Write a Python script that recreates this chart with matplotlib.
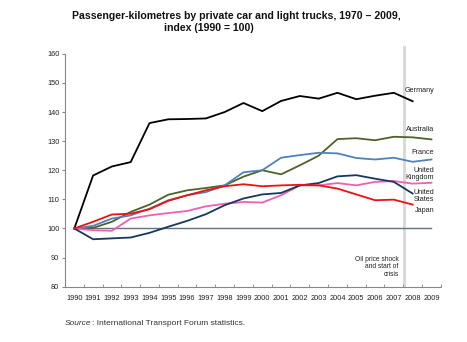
import matplotlib
matplotlib.use("Agg")
import matplotlib.pyplot as plt
from matplotlib.patches import Rectangle

years = list(range(1990, 2010))
germany = [100, 118.2, 121.3, 122.8, 136.2, 137.5, 137.6, 137.8, 140.0, 143.1,
           140.3, 143.8, 145.5, 144.6, 146.6, 144.4, 145.6, 146.6, 143.7, None]
australia = [100, 100.2, 102.3, 105.7, 108.2, 111.6, 113.1, 113.9, 114.8, 117.8,
             120.0, 118.6, 121.7, 125.0, 130.7, 131.0, 130.3, 131.5, 131.3, 130.6]
france = [100, 100.9, 103.4, 104.5, 106.8, 109.7, 111.4, 112.5, 114.8, 119.3,
          120.0, 124.3, 125.2, 126.0, 125.8, 124.2, 123.7, 124.3, 122.9, 123.7]
uk = [100, 99.4, 99.2, 103.4, 104.5, 105.3, 106.0, 107.6, 108.5, 109.1,
      108.9, 111.4, 114.8, 114.8, 115.6, 114.8, 116.0, 116.3, 115.4, 115.7]
japan = [100, 102.3, 104.8, 105.1, 106.6, 109.5, 111.4, 113.1, 114.5, 115.2,
         114.5, 114.8, 115.0, 114.8, 113.7, 111.7, 109.7, 109.9, 108.2, None]
us = [100, 96.3, 96.6, 96.9, 98.5, 100.6, 102.6, 104.9, 108.0, 110.3,
      111.7, 112.2, 114.8, 115.6, 117.9, 118.3, 117.1, 116.0, 112.0, None]
baseline = [100] * 20

def pts(vals):
    xs = [y for y, v in zip(years, vals) if v is not None]
    ys = [v for v in vals if v is not None]
    return xs, ys

plt.rcParams['font.family'] = ['Liberation Sans', 'DejaVu Sans']
fig = plt.figure(figsize=(4.67, 3.42), dpi=100)
ax = fig.add_axes([0.139, 0.1617, 0.805, 0.681])

# oil price shock band
ax.add_patch(Rectangle((2007.47, 80), 0.2, 82.8, facecolor='#D9D9D9',
                       edgecolor='none', clip_on=False, zorder=0))

ax.plot(years, baseline, color='#5F7383', lw=1.0, zorder=1)
series = [
    (germany, '#000000', 'Germany'),
    (australia, '#4F6228', 'Australia'),
    (france, '#4F81BD', 'France'),
    (uk, '#F060B0', 'United\nKingdom'),
    (us, '#17375E', 'United\nStates'),
    (japan, '#F01010', 'Japan'),
]
for vals, col, name in series:
    xs, ys = pts(vals)
    ax.plot(xs, ys, color=col, lw=1.3, zorder=2)

lab_pos = {'Germany': 147.3, 'Australia': 134.0, 'France': 126.0,
           'United\nKingdom': 118.7, 'United\nStates': 111.2, 'Japan': 106.2}
for vals, col, name in series:
    ax.text(2009.15, lab_pos[name], name, ha='right', va='center',
            fontsize=5.2, color='#222222', multialignment='right', linespacing=1.1)

ax.text(2007.25, 86.8, 'Oil price shock\nand start of\ncrisis', ha='right', va='center',
        fontsize=4.8, color='#222222', multialignment='right', linespacing=1.15)

ax.set_xlim(1989.5, 2009.5)
ax.set_ylim(80, 160)
ax.set_yticks(range(80, 161, 10))
ax.set_xticks(years)
ax.set_xticks([y + 0.5 for y in range(1989, 2010)], minor=True)
ax.tick_params(axis='x', which='major', length=0, labelsize=5.3, pad=6, colors='#222222')
ax.tick_params(axis='x', which='minor', length=2, direction='in', color='#888888')
ax.tick_params(axis='y', length=2, labelsize=5.3, color='#888888', labelcolor='#222222', pad=2)
for s in ['top', 'right']:
    ax.spines[s].set_visible(False)
for s in ['left', 'bottom']:
    ax.spines[s].set_color('#888888')
    ax.spines[s].set_linewidth(0.8)

fig.text(0.507, 0.952, 'Passenger-kilometres by private car and light trucks, 1970 \u2013 2009,',
         ha='center', va='center', fontsize=7.6, fontweight='bold', color='#111111')
fig.text(0.351, 0.917, 'index (1990 = 100)', ha='left', va='center',
         fontsize=7.6, fontweight='bold', color='#111111')
src = fig.text(0.139, 0.053, 'Source', ha='left', va='center', fontsize=6.0,
               style='italic', color='#333333')
fig.text(0, 0, ': International Transport Forum statistics.', ha='left', va='center',
         fontsize=6.0, color='#333333',
         transform=matplotlib.transforms.offset_copy(
             matplotlib.transforms.blended_transform_factory(fig.transFigure, fig.transFigure),
             fig=fig, x=0, y=0))
fig.texts[-1].remove()
fig.canvas.draw()
bb = src.get_window_extent()
x1 = bb.x1 / fig.bbox.width
fig.text(x1 + 0.002, 0.053, ': International Transport Forum statistics.', ha='left',
         va='center', fontsize=6.0, color='#333333')

fig.savefig('out.png', dpi=100)
